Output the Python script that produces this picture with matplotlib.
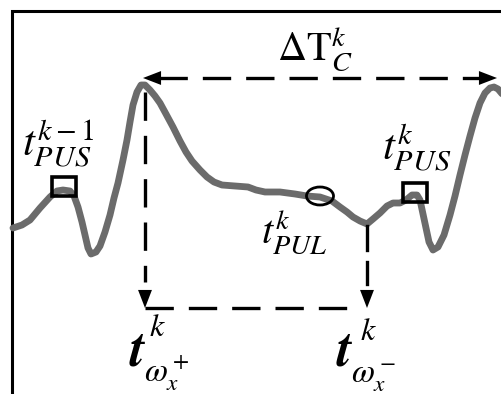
import matplotlib.pyplot as plt
from matplotlib.patches import Rectangle, Ellipse

plt.rcParams['mathtext.fontset'] = 'stix'
plt.rcParams['font.family'] = 'STIXGeneral'

# pulse waveform, sampled on the canvas grid (x: time, y: amplitude, y grows downwards)
t = [13, 22, 30, 40, 50, 57, 63, 70, 74, 78, 82, 85, 88, 91, 96, 100, 105, 110,
     114, 118, 123, 127, 130, 133, 137, 141, 145, 150, 155, 160, 166, 173, 180,
     186, 192, 200, 207, 214, 222, 235, 248, 256, 265, 280, 295, 307, 320, 332,
     340, 347, 353, 360, 367, 373, 380, 387, 393, 400, 406, 412, 417, 420, 423,
     426, 429, 433, 438, 444, 450, 455, 460, 465, 470, 475, 480, 485, 490, 494,
     498, 503]
v = [228, 225, 220, 208, 197, 191, 190, 191, 196, 207, 222, 235, 248, 254, 252,
     246, 232, 215, 198, 183, 160, 140, 122, 105, 92, 85, 85, 90, 96, 103, 114,
     127, 141, 152, 161, 170, 177, 182, 185, 186, 187, 190, 192, 192, 194, 196,
     197, 201, 207, 212, 217, 221, 224, 219, 213, 206, 203, 203, 200, 195, 195,
     200, 214, 228, 242, 250, 247, 235, 215, 196, 175, 155, 136, 118, 103, 93,
     88, 87, 89, 95]

# characteristic points
t_peak, t_peak_next = 143, 497
t_pul = 320
t_valley = 367
pus_prev = (64, 187)
pus_curr = (415, 193)
y_period = 78
y_base = 308

fig = plt.figure(figsize=(5.01, 3.94), dpi=100)
ax = fig.add_axes([0, 0, 1, 1])
ax.set_xlim(0, 501)
ax.set_ylim(394, 0)
ax.axis('off')

# frame
ax.plot([12, 12, 510], [400, 11, 11], color='black', lw=2.2, solid_joinstyle='miter')

ax.plot(t, v, color='#6b6b6b', lw=4.9, solid_joinstyle='round',
        solid_capstyle='round', zorder=2)

dash = (0, (8.5, 4.5))
lw_d = 2.4

# period arrow between the two systolic peaks
ax.plot([t_peak + 16, t_peak_next - 16], [y_period, y_period], color='black',
        lw=lw_d, linestyle=dash)
arrow = dict(arrowstyle='-|>,head_length=1.3,head_width=0.5', color='black',
             lw=0, shrinkA=0, shrinkB=0)
ax.annotate('', xy=(t_peak, y_period), xytext=(t_peak + 22, y_period),
            arrowprops=arrow)
ax.annotate('', xy=(t_peak_next, y_period), xytext=(t_peak_next - 22, y_period),
            arrowprops=arrow)

# drop lines to the time axis
ax.plot([145, 145], [92, 282], color='black', lw=lw_d, linestyle=dash)
ax.annotate('', xy=(145, y_base), xytext=(145, y_base - 28), arrowprops=arrow)
ax.plot([t_valley, t_valley], [226, 250], color='black', lw=lw_d)
ax.plot([t_valley, t_valley], [262, 284], color='black', lw=lw_d)
ax.annotate('', xy=(t_valley, y_base), xytext=(t_valley, y_base - 28),
            arrowprops=arrow)
ax.plot([145, t_valley - 8], [y_base, y_base], color='black', lw=lw_d,
        linestyle=dash)

# markers
for cx, cy in (pus_prev, pus_curr):
    ax.add_patch(Rectangle((cx - 12, cy - 10), 24, 19, fill=False,
                           edgecolor='black', lw=2.6, zorder=3))
ax.add_patch(Ellipse((t_pul, 196), 27, 18, fill=False, edgecolor='black',
                     lw=2.0, zorder=3))

# labels
ax.text(315, 60, r'$\Delta\mathrm{T}_C^k$', fontsize=29, ha='center',
        va='baseline')
ax.text(58, 156, r'$t_{PUS}^{k-1}$', fontsize=31, ha='center', va='baseline')
ax.text(417, 160, r'$t_{PUS}^{k}$', fontsize=31, ha='center', va='baseline')
ax.text(294, 243, r'$t_{PUL}^{k}$', fontsize=29, ha='center', va='baseline')

# time-axis labels: large t with smaller scripts
for x0, sign, kx, ky in ((130, '+', 150, 336), (337, '-', 361, 340)):
    ax.text(x0, 365, 't', fontsize=38, style='italic', fontweight='bold',
            ha='left', va='baseline')
    ax.text(kx, ky, 'k', fontsize=23, style='italic', ha='left',
            va='baseline')
    ax.text(x0 + 14, 382, r'$\omega_x^%s$' % sign, fontsize=24, ha='left',
            va='baseline')

fig.savefig('out.png', dpi=100)
